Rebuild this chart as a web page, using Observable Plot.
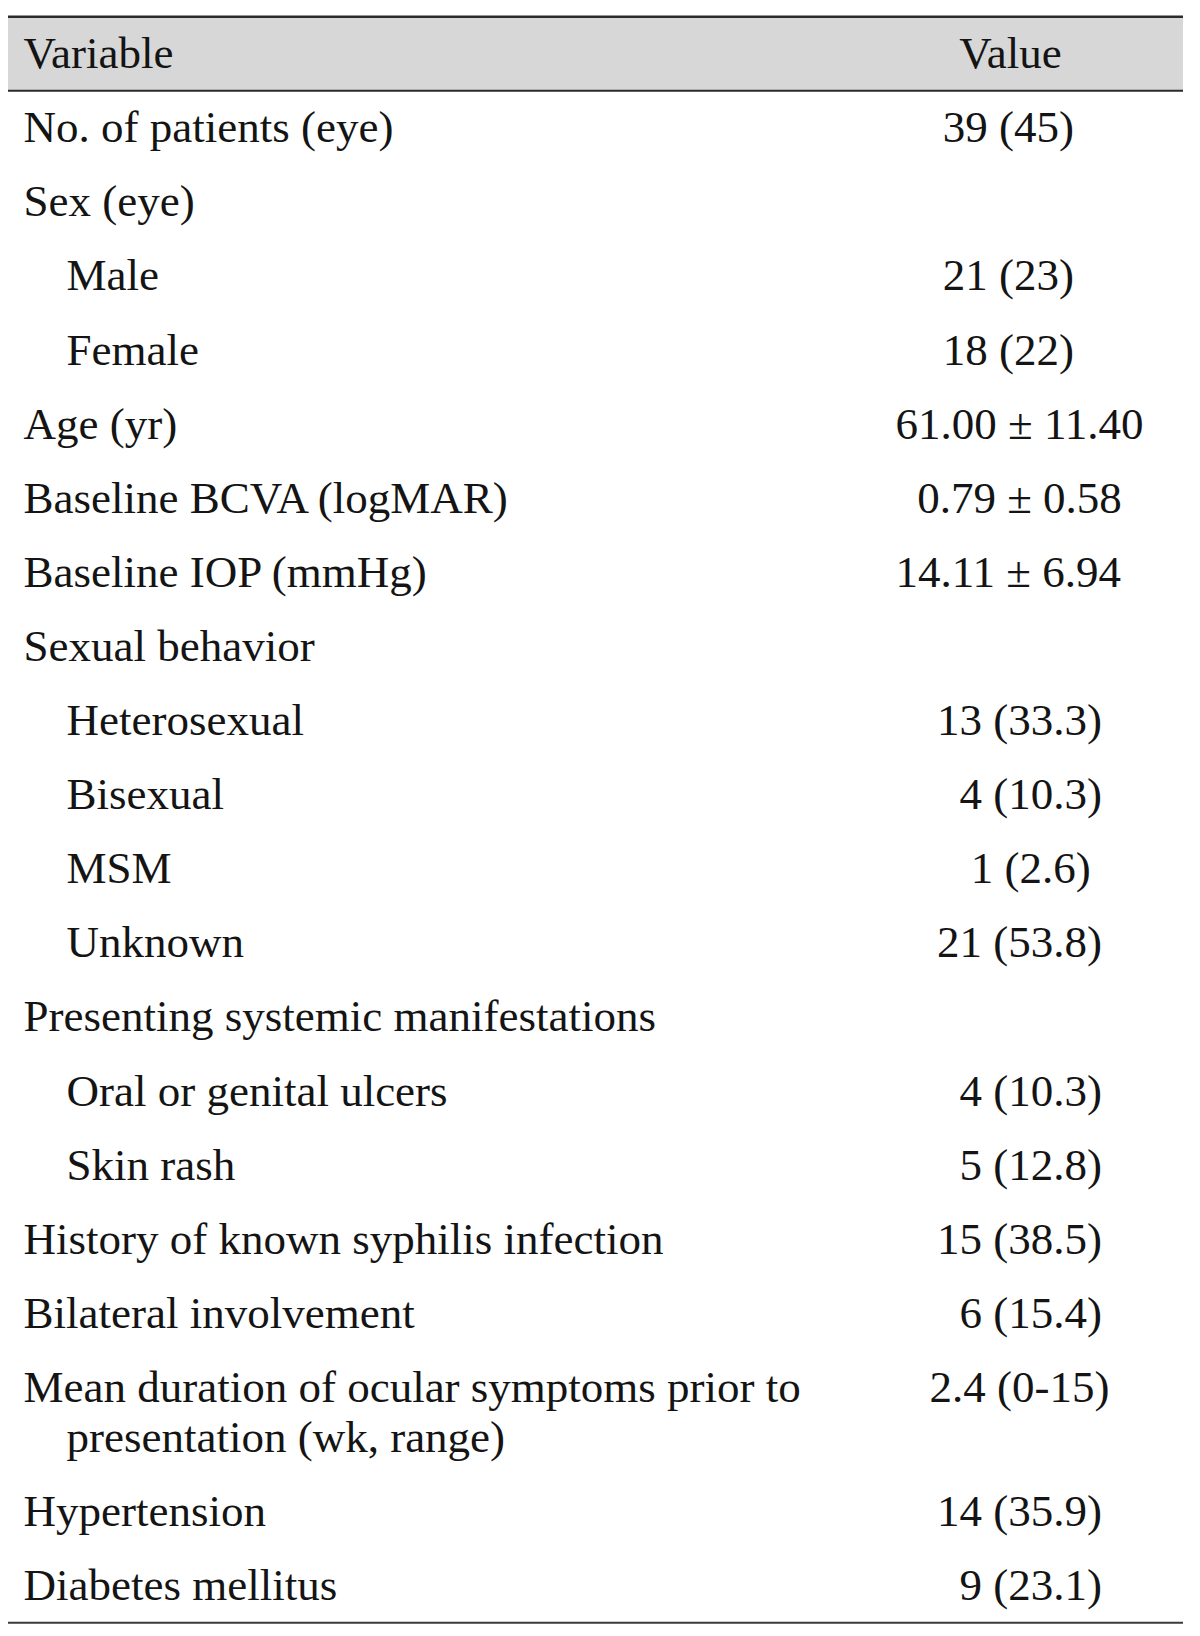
<!DOCTYPE html>
<html>
<head>
<meta charset="utf-8">
<script src="https://cdn.jsdelivr.net/npm/d3@7"></script>
<script src="https://cdn.jsdelivr.net/npm/@observablehq/plot@0.6"></script>
<style>
  html, body { margin: 0; padding: 0; background: #ffffff; }
  #chart svg { display: block; }
</style>
</head>
<body>
<div id="chart"></div>
<script>
// ---- table content ----
const headers = ["Variable", "Value"];

const labels = [
  "No. of patients (eye)",
  "Sex (eye)",
  "Male",
  "Female",
  "Age (yr)",
  "Baseline BCVA (logMAR)",
  "Baseline IOP (mmHg)",
  "Sexual behavior",
  "Heterosexual",
  "Bisexual",
  "MSM",
  "Unknown",
  "Presenting systemic manifestations",
  "Oral or genital ulcers",
  "Skin rash",
  "History of known syphilis infection",
  "Bilateral involvement",
  "Mean duration of ocular symptoms prior to\npresentation (wk, range)",
  "Hypertension",
  "Diabetes mellitus"
];

const levels = [0, 0, 1, 1, 0, 0, 0, 0, 1, 1, 1, 1, 0, 1, 1, 0, 0, 0, 0, 0];

const values = [
  "39 (45)\u2007",
  "",
  "21 (23)\u2007",
  "18 (22)\u2007",
  "61.00 \u00b1 11.40",
  "0.79 \u00b1 0.58",
  "14.11 \u00b1 6.94\u2007",
  "",
  "13 (33.3)",
  "\u20074 (10.3)",
  "\u20071 (2.6)",
  "21 (53.8)",
  "",
  "\u20074 (10.3)",
  "\u20075 (12.8)",
  "15 (38.5)",
  "\u20076 (15.4)",
  "2.4 (0-15)",
  "14 (35.9)",
  "\u20079 (23.1)"
];

// ---- layout (row units) ----
const WRAP = 0.675;   // extra height of a wrapped line, in row units
const INDENT = 43;    // px per indent level

const labelLines = [];
const valueCells = [];
let r = 0;
labels.forEach((lab, i) => {
  const parts = lab.split("\n");
  valueCells.push({col: "Value", r, text: values[i]});
  parts.forEach((p, k) => {
    labelLines.push({col: "Variable", r: r + k * WRAP, text: p, level: levels[i] + (k > 0 ? 1 : 0)});
  });
  r += 1 + (parts.length - 1) * WRAP;
});
const lastRow = r - 1;

const font = "'Liberation Serif', 'Times New Roman', Times, serif";
const ink = "#141414";

const chart = Plot.plot({
  width: 1200,
  height: 1636,
  marginLeft: 8,
  marginRight: 17,
  marginTop: 0,
  marginBottom: 0,
  style: {fontFamily: font, background: "#ffffff"},
  x: {type: "point", domain: headers, range: [23, 1019], padding: 0, align: 0.5, axis: null},
  y: {type: "linear", domain: [0, 1], range: [127.3, 201.4], axis: null},
  marks: [
    // header band
    Plot.ruleY([-1], {stroke: "#d7d7d7", strokeWidth: 74}),
    // rules
    Plot.ruleY([-1.5], {stroke: "#2b2b2b", strokeWidth: 2.5}),
    Plot.ruleY([-0.5], {stroke: "#2b2b2b", strokeWidth: 2}),
    Plot.ruleY([lastRow + 0.5], {stroke: "#3a3a3a", strokeWidth: 2}),
    // header text
    Plot.text([headers[0]], {x: d => d, y: () => -1, text: d => d, textAnchor: "start", lineAnchor: "middle", fontSize: 45, fill: ink}),
    Plot.text([headers[1]], {x: d => d, y: () => -1, text: d => d, textAnchor: "middle", dx: -9, lineAnchor: "middle", fontSize: 45, fill: ink}),
    // labels (indent by level)
    ...[0, 1, 2].map(lv => Plot.text(labelLines.filter(d => d.level === lv), {
      x: "col", y: "r", text: "text", textAnchor: "start", lineAnchor: "middle",
      dx: lv * INDENT, fontSize: 45, fill: ink
    })),
    // values
    Plot.text(valueCells.filter(d => d.text), {
      x: "col", y: "r", text: "text", textAnchor: "middle", lineAnchor: "middle",
      fontSize: 45, fill: ink
    })
  ]
});

document.getElementById("chart").appendChild(chart);
</script>
</body>
</html>
